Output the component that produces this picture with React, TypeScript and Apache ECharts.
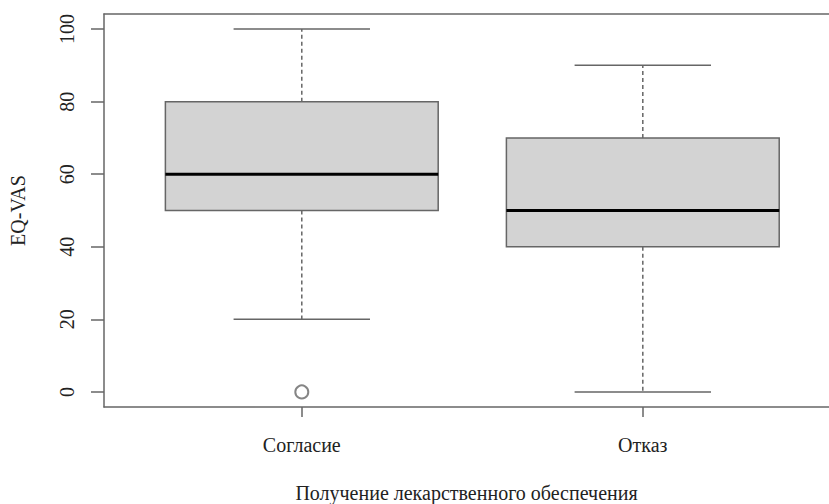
import React, { useEffect, useRef } from "react";
import * as echarts from "echarts";

const categories = ["Согласие", "Отказ"];
const positions = [1, 2];
const mins = [20, 0];
const q1s = [50, 40];
const medians = [60, 50];
const q3s = [80, 70];
const maxs = [100, 90];
const outliers: [number, number][] = [[1, 0]];
const yTicks = [0, 20, 40, 60, 80, 100];

const FONT = "Liberation Serif";
const LINE = "#666";
const TEXT = "#222";
const FS = 20;

export default function App() {
  const ref = useRef<HTMLDivElement>(null);
  useEffect(() => {
    document.body.style.margin = "0";
    const chart = echarts.init(ref.current!, null, { renderer: "svg" });
    const boxData = positions.map((p, i) => [p, mins[i], q1s[i], medians[i], q3s[i], maxs[i]]);
    const frameLine = { show: true, onZero: false, lineStyle: { color: LINE, width: 1.5 } };
    chart.setOption({
      animation: false,
      backgroundColor: "#fff",
      grid: {
        left: 104,
        top: 14,
        right: 0,
        bottom: 97,
        show: false,
        containLabel: false,
        outerBoundsMode: "none",
      },
      xAxis: [
        {
          type: "value",
          min: 0.42,
          max: 2.546,
          name: "Получение лекарственного обеспечения",
          nameLocation: "middle",
          nameGap: 76,
          nameTextStyle: { fontFamily: FONT, fontSize: FS, color: TEXT },
          axisLine: frameLine,
          splitLine: { show: false },
          axisTick: {
            show: true,
            length: 10,
            customValues: positions,
            lineStyle: { color: LINE, width: 1.5 },
          },
          axisLabel: {
            customValues: positions,
            margin: 28,
            fontFamily: FONT,
            fontSize: FS,
            color: TEXT,
            formatter: (v: number) => categories[positions.indexOf(Math.round(v))] ?? "",
          },
        },
        {
          type: "value",
          position: "top",
          min: 0.42,
          max: 2.546,
          axisLine: frameLine,
          axisTick: { show: false },
          axisLabel: { show: false },
          splitLine: { show: false },
        },
      ],
      yAxis: {
        type: "value",
        min: -4.16,
        max: 104.16,
        name: "EQ-VAS",
        nameLocation: "middle",
        nameRotate: 90,
        nameGap: 76,
        nameTextStyle: { fontFamily: FONT, fontSize: FS, color: TEXT },
        axisLine: frameLine,
        splitLine: { show: false },
        axisTick: {
          show: true,
          length: 13,
          customValues: yTicks,
          lineStyle: { color: LINE, width: 1.5 },
        },
        axisLabel: {
          customValues: yTicks,
          rotate: 90,
          margin: 27,
          fontFamily: FONT,
          fontSize: FS,
          color: TEXT,
        },
      },
      series: [
        {
          type: "custom",
          data: boxData,
          renderItem: (params: any, api: any) => {
            const x = api.value(0);
            const mn = api.value(1);
            const q1 = api.value(2);
            const md = api.value(3);
            const q3 = api.value(4);
            const mx = api.value(5);
            const boxW = api.size([0.8, 0])[0];
            const capW = api.size([0.4, 0])[0];
            const pMin = api.coord([x, mn]);
            const pQ1 = api.coord([x, q1]);
            const pMd = api.coord([x, md]);
            const pQ3 = api.coord([x, q3]);
            const pMax = api.coord([x, mx]);
            const cx = pQ1[0];
            const thin = { stroke: LINE, lineWidth: 1.5 };
            const dashed = { stroke: LINE, lineWidth: 1.5, lineDash: [4, 3] };
            return {
              type: "group",
              children: [
                { type: "line", shape: { x1: cx, y1: pQ3[1], x2: cx, y2: pMax[1] }, style: dashed },
                { type: "line", shape: { x1: cx, y1: pQ1[1], x2: cx, y2: pMin[1] }, style: dashed },
                { type: "line", shape: { x1: cx - capW / 2, y1: pMax[1], x2: cx + capW / 2, y2: pMax[1] }, style: thin },
                { type: "line", shape: { x1: cx - capW / 2, y1: pMin[1], x2: cx + capW / 2, y2: pMin[1] }, style: thin },
                {
                  type: "rect",
                  shape: { x: cx - boxW / 2, y: pQ3[1], width: boxW, height: pQ1[1] - pQ3[1] },
                  style: { fill: "#d3d3d3", stroke: LINE, lineWidth: 1.5 },
                },
                {
                  type: "line",
                  shape: { x1: cx - boxW / 2, y1: pMd[1], x2: cx + boxW / 2, y2: pMd[1] },
                  style: { stroke: "#000", lineWidth: 3 },
                },
              ],
            };
          },
        },
        {
          type: "scatter",
          data: outliers,
          symbol: "emptyCircle",
          symbolSize: 13,
          itemStyle: { color: LINE, borderColor: LINE, borderWidth: 1.5 },
        },
      ],
    });
    return () => chart.dispose();
  }, []);
  return <div ref={ref} style={{ width: 829, height: 504 }} />;
}
